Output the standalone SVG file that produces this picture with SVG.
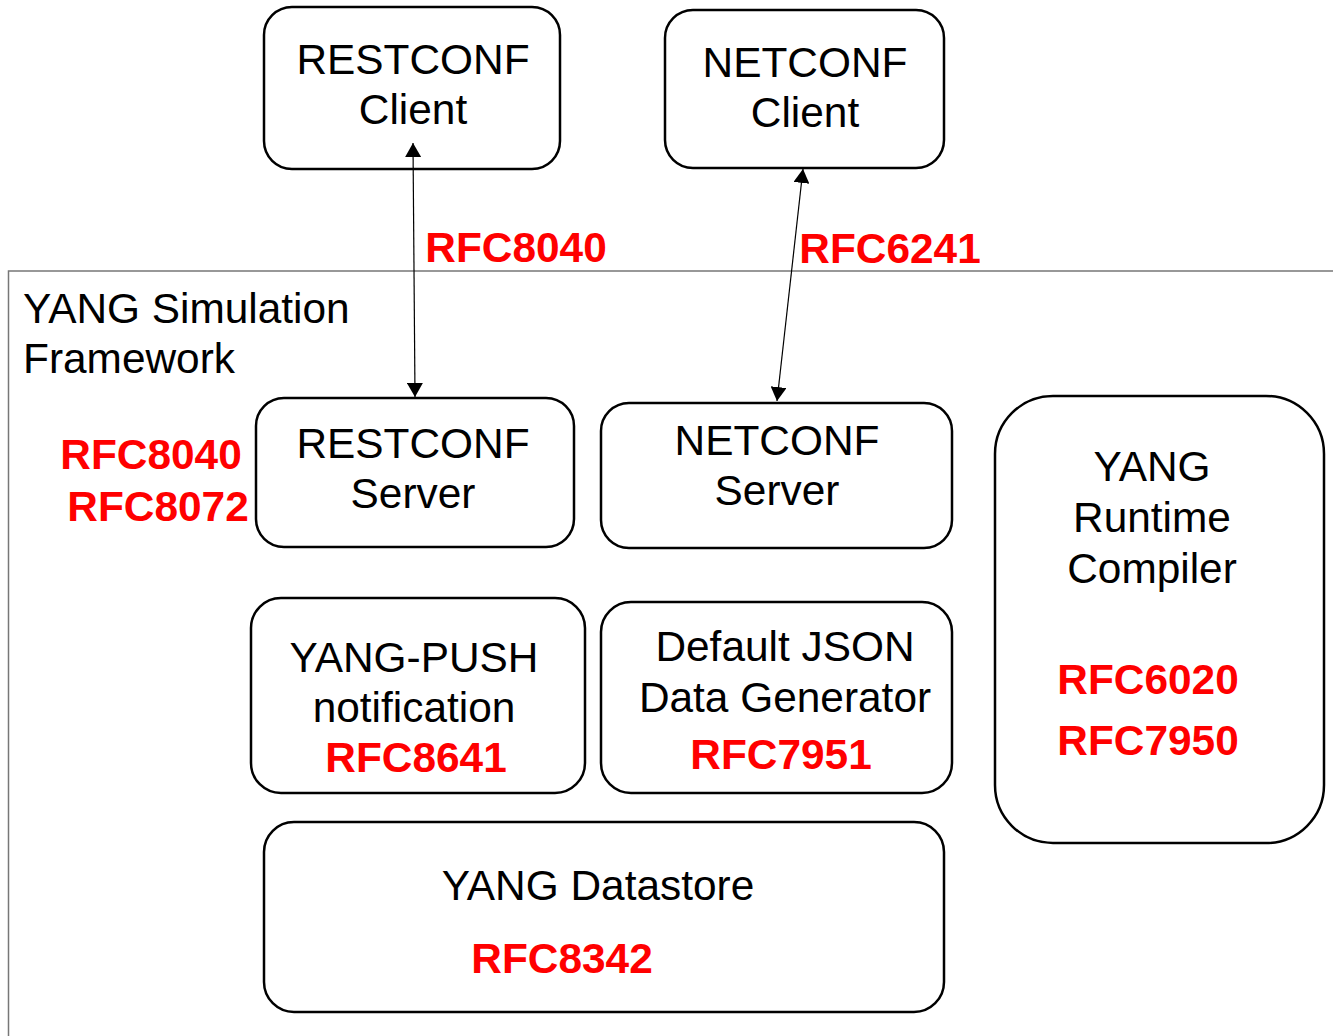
<svg xmlns="http://www.w3.org/2000/svg" width="1333" height="1036" viewBox="0 0 1333 1036">
<defs>
<style>
.box{fill:#fff;stroke:#000;stroke-width:2.5}
.t{font-family:"Liberation Sans",Arial,sans-serif;font-size:42.4px;fill:#000;text-anchor:middle}
.r{font-family:"Liberation Sans",Arial,sans-serif;font-size:42.4px;font-weight:bold;fill:#f00;text-anchor:middle}
.conn{stroke:#000;stroke-width:1.2;fill:none}
</style>
<marker id="ah" viewBox="0 0 14 16" refX="14" refY="8" markerWidth="14" markerHeight="16" markerUnits="userSpaceOnUse" orient="auto-start-reverse">
<path d="M0,0 L14,8 L0,16 Z" fill="#000"/>
</marker>
</defs>
<rect width="1333" height="1036" fill="#fff"/>
<g id="framework">
<rect x="8.5" y="271" width="1340" height="780" fill="none" stroke="#777" stroke-width="1.5"/>
<text x="23" y="323" class="t" style="text-anchor:start">YANG Simulation</text>
<text x="23" y="373" class="t" style="text-anchor:start">Framework</text>
</g>
<g id="restconf-client">
<rect x="264" y="7" width="296" height="162" rx="28" class="box"/>
<text x="413" y="74" class="t">RESTCONF</text>
<text x="413" y="124" class="t">Client</text>
</g>
<g id="netconf-client">
<rect x="665" y="10" width="279" height="158" rx="28" class="box"/>
<text x="805" y="77" class="t">NETCONF</text>
<text x="805" y="127" class="t">Client</text>
</g>
<g id="restconf-server">
<rect x="256" y="398" width="318" height="149" rx="28" class="box"/>
<text x="413" y="458" class="t">RESTCONF</text>
<text x="413" y="508" class="t">Server</text>
<text x="151" y="469" class="r">RFC8040</text>
<text x="158" y="521" class="r">RFC8072</text>
</g>
<g id="netconf-server">
<rect x="601" y="403" width="351" height="145" rx="28" class="box"/>
<text x="777" y="455" class="t">NETCONF</text>
<text x="777" y="505" class="t">Server</text>
</g>
<g id="runtime-compiler">
<rect x="995" y="396" width="329" height="447" rx="58" class="box"/>
<text x="1152" y="481" class="t">YANG</text>
<text x="1152" y="532" class="t">Runtime</text>
<text x="1152" y="583" class="t">Compiler</text>
<text x="1148" y="694" class="r">RFC6020</text>
<text x="1148" y="755" class="r">RFC7950</text>
</g>
<g id="yang-push">
<rect x="251" y="598" width="334" height="195" rx="30" class="box"/>
<text x="414" y="672" class="t">YANG-PUSH</text>
<text x="414" y="722" class="t">notification</text>
<text x="416" y="772" class="r">RFC8641</text>
</g>
<g id="json-generator">
<rect x="601" y="602" width="351" height="191" rx="30" class="box"/>
<text x="785" y="661" class="t">Default JSON</text>
<text x="785" y="712" class="t">Data Generator</text>
<text x="781" y="769" class="r">RFC7951</text>
</g>
<g id="datastore">
<rect x="264" y="822" width="680" height="190" rx="30" class="box"/>
<text x="598" y="900" class="t">YANG Datastore</text>
<text x="562" y="973" class="r">RFC8342</text>
</g>
<g id="connectors">
<line x1="413" y1="143" x2="415" y2="397" class="conn" marker-start="url(#ah)" marker-end="url(#ah)"/>
<line x1="803" y1="169" x2="777" y2="401" class="conn" marker-start="url(#ah)" marker-end="url(#ah)"/>
<text x="516" y="262" class="r">RFC8040</text>
<text x="890" y="263" class="r">RFC6241</text>
</g>
</svg>
